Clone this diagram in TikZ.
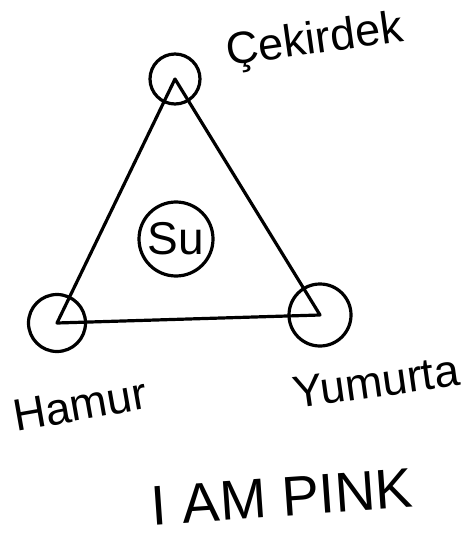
\documentclass[tikz,border=0pt]{standalone}
\usepackage{fontspec}
\setmainfont{Liberation Sans}
\begin{document}
\begin{tikzpicture}[x=1pt,y=-1pt,line width=3.2pt,line cap=round,line join=round,
 stop/.style={draw,circle,inner sep=0pt},
 hand/.style={font=\fontsize{45}{48}\selectfont,inner sep=0pt}]
\useasboundingbox (0,0) rectangle (462,537);
% the four circles
\node[stop,minimum size=50pt] (cek) at (175,79) {};
\node[stop,minimum size=57pt] (ham) at (57,323) {};
\node[stop,minimum size=62pt] (yum) at (320,315) {};
\node[stop,minimum size=74pt,font=\fontsize{46}{48}\selectfont] (su) at (176,239) {Su};
% triangle
\draw (cek.center) -- (ham.center) -- (yum.center) -- (cek.center);
% labels
\node[hand,rotate=8] (cekl) at (315,42) {Çekirdek};
\node[hand,rotate=10] (haml) at (80,405) {Hamur};
\node[hand,rotate=8] (yuml) at (376,382) {Yumurta};
\node[hand,font=\fontsize{56}{60}\selectfont,rotate=4] (pink) at (282,497) {I AM PINK};
\end{tikzpicture}
\end{document}
